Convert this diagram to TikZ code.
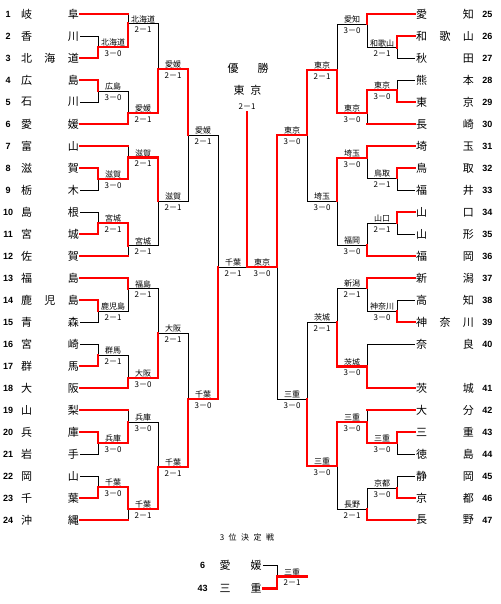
\documentclass[tikz,border=0pt]{standalone}
\usepackage{fontspec}
\setmainfont{Noto Sans CJK JP}
\newfontfamily\numfont{Liberation Sans}
\usepackage{tikz}
\newcommand{\tmei}[2][57.6pt]{\makebox[#1][s]{#2}}

\begin{document}
\begin{tikzpicture}
  [x=1pt,y=-1pt]
      \tikzstyle{team} = [inner sep=1.2pt, font=\fontsize{11}{11}\selectfont]
      \tikzstyle{num} = [inner sep=0pt, text width=12pt, align=center, font=\numfont\bfseries\fontsize{9}{9}\selectfont]
      \tikzset{ln/.style={label={[num,label distance=5.5pt]left:#1}}, rn/.style={label={[num,label distance=6pt]right:#1}}}
      \tikzstyle{res} = [inner sep=0pt, align=center, font=\fontsize{8}{10.3}\selectfont, xshift=15pt, yshift=-0.65pt]
      \tikzstyle{rres} = [inner sep=0pt, align=center, font=\fontsize{8}{10.3}\selectfont, xshift=-15pt, yshift=-0.65pt]
      \tikzstyle{lose} = [draw=black, line width=0.8pt]
      \tikzstyle{win} = [draw=red, line width=2.8pt, line cap=rect]
  \useasboundingbox (0,0) rectangle (500,604);
  % left block
  \node[team, ln=1] (n1) at (50,14) {\tmei{岐\hfill 阜}};
  \node[team, ln=2] (n2) at (50,36) {\tmei{香\hfill 川}};
  \node[team, ln=3] (n3) at (50,58) {\tmei{北\hfill 海\hfill 道}};
  \node[team, ln=4] (n4) at (50,80) {\tmei{広\hfill 島}};
  \node[team, ln=5] (n5) at (50,102) {\tmei{石\hfill 川}};
  \node[team, ln=6] (n6) at (50,124) {\tmei{愛\hfill 媛}};
  \node[team, ln=7] (n7) at (50,146) {\tmei{富\hfill 山}};
  \node[team, ln=8] (n8) at (50,168) {\tmei{滋\hfill 賀}};
  \node[team, ln=9] (n9) at (50,190) {\tmei{栃\hfill 木}};
  \node[team, ln=10] (n10) at (50,212) {\tmei{島\hfill 根}};
  \node[team, ln=11] (n11) at (50,234) {\tmei{宮\hfill 城}};
  \node[team, ln=12] (n12) at (50,256) {\tmei{佐\hfill 賀}};
  \node[team, ln=13] (n13) at (50,278) {\tmei{福\hfill 島}};
  \node[team, ln=14] (n14) at (50,300) {\tmei{鹿\hfill 児\hfill 島}};
  \node[team, ln=15] (n15) at (50,322) {\tmei{青\hfill 森}};
  \node[team, ln=16] (n16) at (50,344) {\tmei{宮\hfill 崎}};
  \node[team, ln=17] (n17) at (50,366) {\tmei{群\hfill 馬}};
  \node[team, ln=18] (n18) at (50,388) {\tmei{大\hfill 阪}};
  \node[team, ln=19] (n19) at (50,410) {\tmei{山\hfill 梨}};
  \node[team, ln=20] (n20) at (50,432) {\tmei{兵\hfill 庫}};
  \node[team, ln=21] (n21) at (50,454) {\tmei{岩\hfill 手}};
  \node[team, ln=22] (n22) at (50,476) {\tmei{岡\hfill 山}};
  \node[team, ln=23] (n23) at (50,498) {\tmei{千\hfill 葉}};
  \node[team, ln=24] (n24) at (50,520) {\tmei{沖\hfill 縄}};
  % right block
  \node[team, rn=25] (n25) at (445,14) {\tmei{愛\hfill 知}};
  \node[team, rn=26] (n26) at (445,36) {\tmei{和\hfill 歌\hfill 山}};
  \node[team, rn=27] (n27) at (445,58) {\tmei{秋\hfill 田}};
  \node[team, rn=28] (n28) at (445,80) {\tmei{熊\hfill 本}};
  \node[team, rn=29] (n29) at (445,102) {\tmei{東\hfill 京}};
  \node[team, rn=30] (n30) at (445,124) {\tmei{長\hfill 崎}};
  \node[team, rn=31] (n31) at (445,146) {\tmei{埼\hfill 玉}};
  \node[team, rn=32] (n32) at (445,168) {\tmei{鳥\hfill 取}};
  \node[team, rn=33] (n33) at (445,190) {\tmei{福\hfill 井}};
  \node[team, rn=34] (n34) at (445,212) {\tmei{山\hfill 口}};
  \node[team, rn=35] (n35) at (445,234) {\tmei{山\hfill 形}};
  \node[team, rn=36] (n36) at (445,256) {\tmei{福\hfill 岡}};
  \node[team, rn=37] (n37) at (445,278) {\tmei{新\hfill 潟}};
  \node[team, rn=38] (n38) at (445,300) {\tmei{高\hfill 知}};
  \node[team, rn=39] (n39) at (445,322) {\tmei{神\hfill 奈\hfill 川}};
  \node[team, rn=40] (n40) at (445,344) {\tmei{奈\hfill 良}};
  \node[team, rn=41] (n41) at (445,388) {\tmei{茨\hfill 城}};
  \node[team, rn=42] (n42) at (445,410) {\tmei{大\hfill 分}};
  \node[team, rn=43] (n43) at (445,432) {\tmei{三\hfill 重}};
  \node[team, rn=44] (n44) at (445,454) {\tmei{徳\hfill 島}};
  \node[team, rn=45] (n45) at (445,476) {\tmei{静\hfill 岡}};
  \node[team, rn=46] (n46) at (445,498) {\tmei{京\hfill 都}};
  \node[team, rn=47] (n47) at (445,520) {\tmei{長\hfill 野}};
  % left rounds
  \coordinate (la1) at (98,47);  \node[res] (la1t) at (la1) {北海道\\3－0};
  \coordinate (la2) at (98,91);  \node[res] (la2t) at (la2) {広島\\3－0};
  \coordinate (la3) at (98,179); \node[res] (la3t) at (la3) {滋賀\\3－0};
  \coordinate (la4) at (98,223); \node[res] (la4t) at (la4) {宮城\\2－1};
  \coordinate (la5) at (98,311); \node[res] (la5t) at (la5) {鹿児島\\2－1};
  \coordinate (la6) at (98,355); \node[res] (la6t) at (la6) {群馬\\2－1};
  \coordinate (la7) at (98,443); \node[res] (la7t) at (la7) {兵庫\\3－0};
  \coordinate (la8) at (98,487); \node[res] (la8t) at (la8) {千葉\\3－0};
  \coordinate (lb1) at (128,23.5);  \node[res] (lb1t) at (lb1) {北海道\\2－1};
  \coordinate (lb2) at (128,113);   \node[res] (lb2t) at (lb2) {愛媛\\2－1};
  \coordinate (lb3) at (128,157.5); \node[res] (lb3t) at (lb3) {滋賀\\2－1};
  \coordinate (lb4) at (128,245.5); \node[res] (lb4t) at (lb4) {宮城\\2－1};
  \coordinate (lb5) at (128,288.5); \node[res] (lb5t) at (lb5) {福島\\2－1};
  \coordinate (lb6) at (128,378);   \node[res] (lb6t) at (lb6) {大阪\\3－0};
  \coordinate (lb7) at (128,422);   \node[res] (lb7t) at (lb7) {兵庫\\3－0};
  \coordinate (lb8) at (128,509);   \node[res] (lb8t) at (lb8) {千葉\\2－1};
  \coordinate (lc1) at (158,69);  \node[res] (lc1t) at (lc1) {愛媛\\2－1};
  \coordinate (lc2) at (158,201); \node[res] (lc2t) at (lc2) {滋賀\\2－1};
  \coordinate (lc3) at (158,333); \node[res] (lc3t) at (lc3) {大阪\\2－1};
  \coordinate (lc4) at (158,467); \node[res] (lc4t) at (lc4) {千葉\\2－1};
  \coordinate (ld1) at (188,135); \node[res] (ld1t) at (ld1) {愛媛\\2－1};
  \coordinate (ld2) at (188,399); \node[res] (ld2t) at (ld2) {千葉\\3－0};
  \coordinate (le) at (218,267);  \node[res] (let) at (le) {千葉\\2－1};
  % right rounds
  \coordinate (ra1) at (397,47.5); \node[rres] (ra1t) at (ra1) {和歌山\\2－1};
  \coordinate (ra2) at (397,90);   \node[rres] (ra2t) at (ra2) {東京\\3－0};
  \coordinate (ra3) at (397,178);  \node[rres] (ra3t) at (ra3) {鳥取\\2－1};
  \coordinate (ra4) at (397,223);  \node[rres] (ra4t) at (ra4) {山口\\2－1};
  \coordinate (ra5) at (397,311);  \node[rres] (ra5t) at (ra5) {神奈川\\3－0};
  \coordinate (ra6) at (397,443);  \node[rres] (ra6t) at (ra6) {三重\\3－0};
  \coordinate (ra7) at (397,488);  \node[rres] (ra7t) at (ra7) {京都\\3－0};
  \coordinate (rb1) at (367,24);    \node[rres] (rb1t) at (rb1) {愛知\\3－0};
  \coordinate (rb2) at (367,113);   \node[rres] (rb2t) at (rb2) {東京\\3－0};
  \coordinate (rb3) at (367,158);   \node[rres] (rb3t) at (rb3) {埼玉\\3－0};
  \coordinate (rb4) at (367,245);   \node[rres] (rb4t) at (rb4) {福岡\\3－0};
  \coordinate (rb5) at (367,288);   \node[rres] (rb5t) at (rb5) {新潟\\2－1};
  \coordinate (rb6) at (367,366.5); \node[rres] (rb6t) at (rb6) {茨城\\3－0};
  \coordinate (rb7) at (367,422);   \node[rres] (rb7t) at (rb7) {三重\\3－0};
  \coordinate (rb8) at (367,509);   \node[rres] (rb8t) at (rb8) {長野\\2－1};
  \coordinate (rc1) at (337,70);  \node[rres] (rc1t) at (rc1) {東京\\2－1};
  \coordinate (rc2) at (337,201); \node[rres] (rc2t) at (rc2) {埼玉\\3－0};
  \coordinate (rc3) at (337,322); \node[rres] (rc3t) at (rc3) {茨城\\2－1};
  \coordinate (rc4) at (337,466); \node[rres] (rc4t) at (rc4) {三重\\3－0};
  \coordinate (rd1) at (307,135); \node[rres] (rd1t) at (rd1) {東京\\3－0};
  \coordinate (rd2) at (307,399); \node[rres] (rd2t) at (rd2) {三重\\3－0};
  \coordinate (re) at (277,267);  \node[rres] (ret) at (re) {東京\\3－0};
  % final
  \coordinate (fin) at (247,267);
  \coordinate (champ) at (247,112.5);
  \node[font=\fontsize{11}{11}\selectfont] (yusho) at (248,68) {優\hspace{19pt}勝};
  \node[font=\fontsize{11}{11}\selectfont] (champname) at (247.5,90.7) {東\hspace{6pt}京};
  \node[font=\fontsize{8}{8}\selectfont] (champscore) at (247,107) {2－1};
  % losers
  \draw[lose] (n2.east) -| (la1) (n5.east) -| (la2) (n9.east) -| (la3) (n10.east) -| (la4)
              (n15.east) -| (la5) (n16.east) -| (la6) (n21.east) -| (la7) (n22.east) -| (la8);
  \draw[lose] (n1.east) -| (lb1) (la2) -| (lb2) (n7.east) -| (lb3) (n12.east) -| (lb4)
              (la5) -| (lb5) (la6) -| (lb6) (n19.east) -| (lb7) (n24.east) -| (lb8);
  \draw[lose] (lb1) -| (lc1) (lb4) -| (lc2) (lb5) -| (lc3) (lb7) -| (lc4);
  \draw[lose] (lc2) -| (ld1) (lc3) -| (ld2);
  \draw[lose] (ld1) -| (le) -- (fin);
  \draw[lose] (n27.west) -| (ra1) (n28.west) -| (ra2) (n33.west) -| (ra3) (n35.west) -| (ra4)
              (n38.west) -| (ra5) (n44.west) -| (ra6) (n45.west) -| (ra7);
  \draw[lose] (ra1) -| (rb1) (n30.west) -| (rb2) (ra3) -| (rb3) (ra4) -| (rb4)
              (ra5) -| (rb5) (n40.west) -| (rb6) (n42.west) -| (rb7) (ra7) -| (rb8);
  \draw[lose] (rb1) -| (rc1) (rb4) -| (rc2) (rb5) -| (rc3) (rb8) -| (rc4);
  \draw[lose] (rc2) -| (rd1) (rc3) -| (rd2);
  \draw[lose] (rd2) -| (re);
  % byes
  \draw[win] (n1.east) -- (n1.east -| lb1) (n7.east) -- (n7.east -| lb3) (n12.east) -- (n12.east -| lb4)
             (n19.east) -- (n19.east -| lb7) (n24.east) -- (n24.east -| lb8);
  \draw[win] (n30.west) -- (n30.west -| rb2) (n42.west) -- (n42.west -| rb7);
  % winners
  \draw[win] (n3.east) -| (la1) (n4.east) -| (la2) (n8.east) -| (la3) (n11.east) -| (la4)
             (n14.east) -| (la5) (n17.east) -| (la6) (n20.east) -| (la7) (n23.east) -| (la8);
  \draw[win] (la1) -| (lb1) (n6.east) -| (lb2) (la3) -| (lb3) (la4) -| (lb4)
             (n13.east) -| (lb5) (n18.east) -| (lb6) (la7) -| (lb7) (la8) -| (lb8);
  \draw[win] (lb2) -| (lc1) (lb3) -| (lc2) (lb6) -| (lc3) (lb8) -| (lc4);
  \draw[win] (lc1) -| (ld1) (lc4) -| (ld2);
  \draw[win] (ld2) -| (le);
  \draw[win] (n26.west) -| (ra1) (n29.west) -| (ra2) (n32.west) -| (ra3) (n34.west) -| (ra4)
             (n39.west) -| (ra5) (n43.west) -| (ra6) (n46.west) -| (ra7);
  \draw[win] (n25.west) -| (rb1) (ra2) -| (rb2) (n31.west) -| (rb3) (n36.west) -| (rb4)
             (n37.west) -| (rb5) (n41.west) -| (rb6) (ra6) -| (rb7) (n47.west) -| (rb8);
  \draw[win] (rb2) -| (rc1) (rb3) -| (rc2) (rb6) -| (rc3) (rb7) -| (rc4);
  \draw[win] (rc1) -| (rd1) (rc4) -| (rd2);
  \draw[win] (rd1) -| (re) -- (fin) -- (champ);
  % third place
  \node[font=\fontsize{8}{8}\selectfont] (third) at (247,537.7) {3\hspace{4.5pt}位\hspace{4.5pt}決\hspace{4.5pt}定\hspace{4.5pt}戦};
  \node[team, label={[num,label distance=9.3pt]left:6}] (q6) at (240.5,565) {\tmei[42pt]{愛\hfill 媛}};
  \node[team, label={[num,label distance=9.3pt]left:43}] (q43) at (240.5,588.5) {\tmei[42pt]{三\hfill 重}};
  \coordinate (tp) at (277,576.5);
  \coordinate (tpo) at (306.7,576.5);
  \node[res] (tpt) at (tp) {三重\\2－1};
  \draw[lose] (q6.east) -| (tp);
  \draw[win] (q43.east) -| (tp) -- (tpo);
\end{tikzpicture}
\end{document}
